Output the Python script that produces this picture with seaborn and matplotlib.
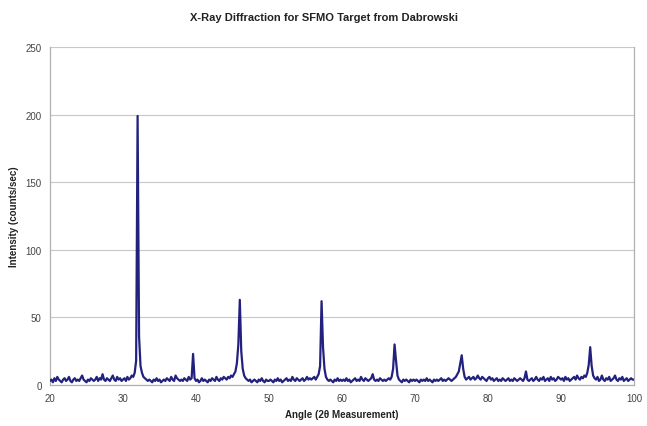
import numpy as np
import pandas as pd
import matplotlib
matplotlib.use("Agg")
import matplotlib.pyplot as plt
import seaborn as sns

# Sampling grid: 20.0 to 100.0 degrees, step 0.2
angle_start = 20.0
angle_step = 0.2

i_20_30 = [3,4,2,5,3,6,4,3,2,4, 5,3,4,6,3,2,4,5,3,4, 3,5,7,4,3,2,4,3,5,4,
           3,4,6,3,5,4,8,4,3,5, 4,3,5,7,4,3,6,4,5,3]
i_30_40 = [4,5,3,6,4,5,7,6,9,18, 199,36,14,9,6,5,4,3,4,3, 2,4,3,5,3,4,2,3,4,3,
           5,4,3,6,4,3,7,5,4,3, 4,3,5,4,3,6,4,5,23,5]
i_40_50 = [3,4,2,3,5,3,4,3,2,4, 3,5,4,3,6,4,3,5,4,6, 5,4,6,5,7,6,8,10,16,30,
           63,25,12,7,5,4,3,4,2,3, 4,3,2,4,3,5,3,2,4,3]
i_50_60 = [3,4,3,2,4,3,5,3,4,2, 3,4,5,3,4,3,6,4,3,5, 4,3,4,5,3,4,6,4,5,4,
           5,6,4,6,8,14,62,28,12,6, 4,3,4,3,2,4,3,5,3,4]
i_60_70 = [3,4,3,5,3,4,2,3,4,5, 3,4,3,6,4,3,5,4,3,4, 5,8,4,3,4,3,5,4,3,4,
           3,4,5,4,6,12,30,18,7,4, 3,2,4,3,4,3,2,4,3,4]
i_70_80 = [3,4,3,2,4,3,4,3,5,3, 4,3,2,4,3,4,3,4,5,3, 4,3,4,5,4,3,4,5,6,8,
           10,16,22,12,6,4,5,6,4,5, 6,4,5,7,5,4,6,5,4,3]
i_80_90 = [5,6,4,5,3,4,5,3,4,3, 5,4,3,4,5,3,4,3,5,4, 3,4,5,4,3,5,10,4,3,4,
           5,3,4,6,4,3,5,4,6,3, 4,5,3,6,4,5,3,4,6,5]
i_90_100 = [4,5,3,6,4,5,3,4,5,6, 4,7,5,4,6,5,7,6,9,15, 28,14,7,5,4,6,3,4,7,4,
            3,5,4,6,3,4,5,7,4,3, 5,4,6,3,4,5,3,4,5,4, 4]

intensity = (i_20_30 + i_30_40 + i_40_50 + i_50_60 + i_60_70 +
             i_70_80 + i_80_90 + i_90_100)
angle = np.round(angle_start + angle_step * np.arange(len(intensity)), 2)

df = pd.DataFrame({"angle": angle, "intensity": intensity})

x_ticks = [20, 30, 40, 50, 60, 70, 80, 90, 100]
y_ticks = [0, 50, 100, 150, 200, 250]

sns.set_style("white")
plt.rcParams['font.family'] = ['Liberation Sans', 'DejaVu Sans']

fig = plt.figure(figsize=(6.47, 4.27), dpi=100)
ax = fig.add_axes([50/647, 41/427, 584/647, 338/427])

sns.lineplot(data=df, x="angle", y="intensity", ax=ax, color="#22227e",
             linewidth=1.6, zorder=3)

ax.set_xlim(20, 100)
ax.set_ylim(0, 250)
ax.set_xticks(x_ticks)
ax.set_yticks(y_ticks)
ax.yaxis.grid(True, color="#c8c8c8", linewidth=0.8)
ax.xaxis.grid(False)
for s in ax.spines.values():
    s.set_color("#b0b0b0")
    s.set_linewidth(0.9)
ax.spines['top'].set_visible(False)
ax.tick_params(axis='both', labelsize=7, colors="#444444", length=3,
               width=0.6, pad=3)
ax.tick_params(axis='both', color="#b0b0b0")

ax.set_xlabel("Angle (2θ Measurement)", fontsize=7, fontweight="bold",
              color="#222222", labelpad=4)
ax.set_ylabel("Intensity (counts/sec)", fontsize=7, fontweight="bold",
              color="#222222", labelpad=5)
fig.suptitle("X-Ray Diffraction for SFMO Target from Dabrowski", fontsize=8,
             fontweight="bold", color="#222222", y=0.97)

fig.savefig("out.png", dpi=100)
